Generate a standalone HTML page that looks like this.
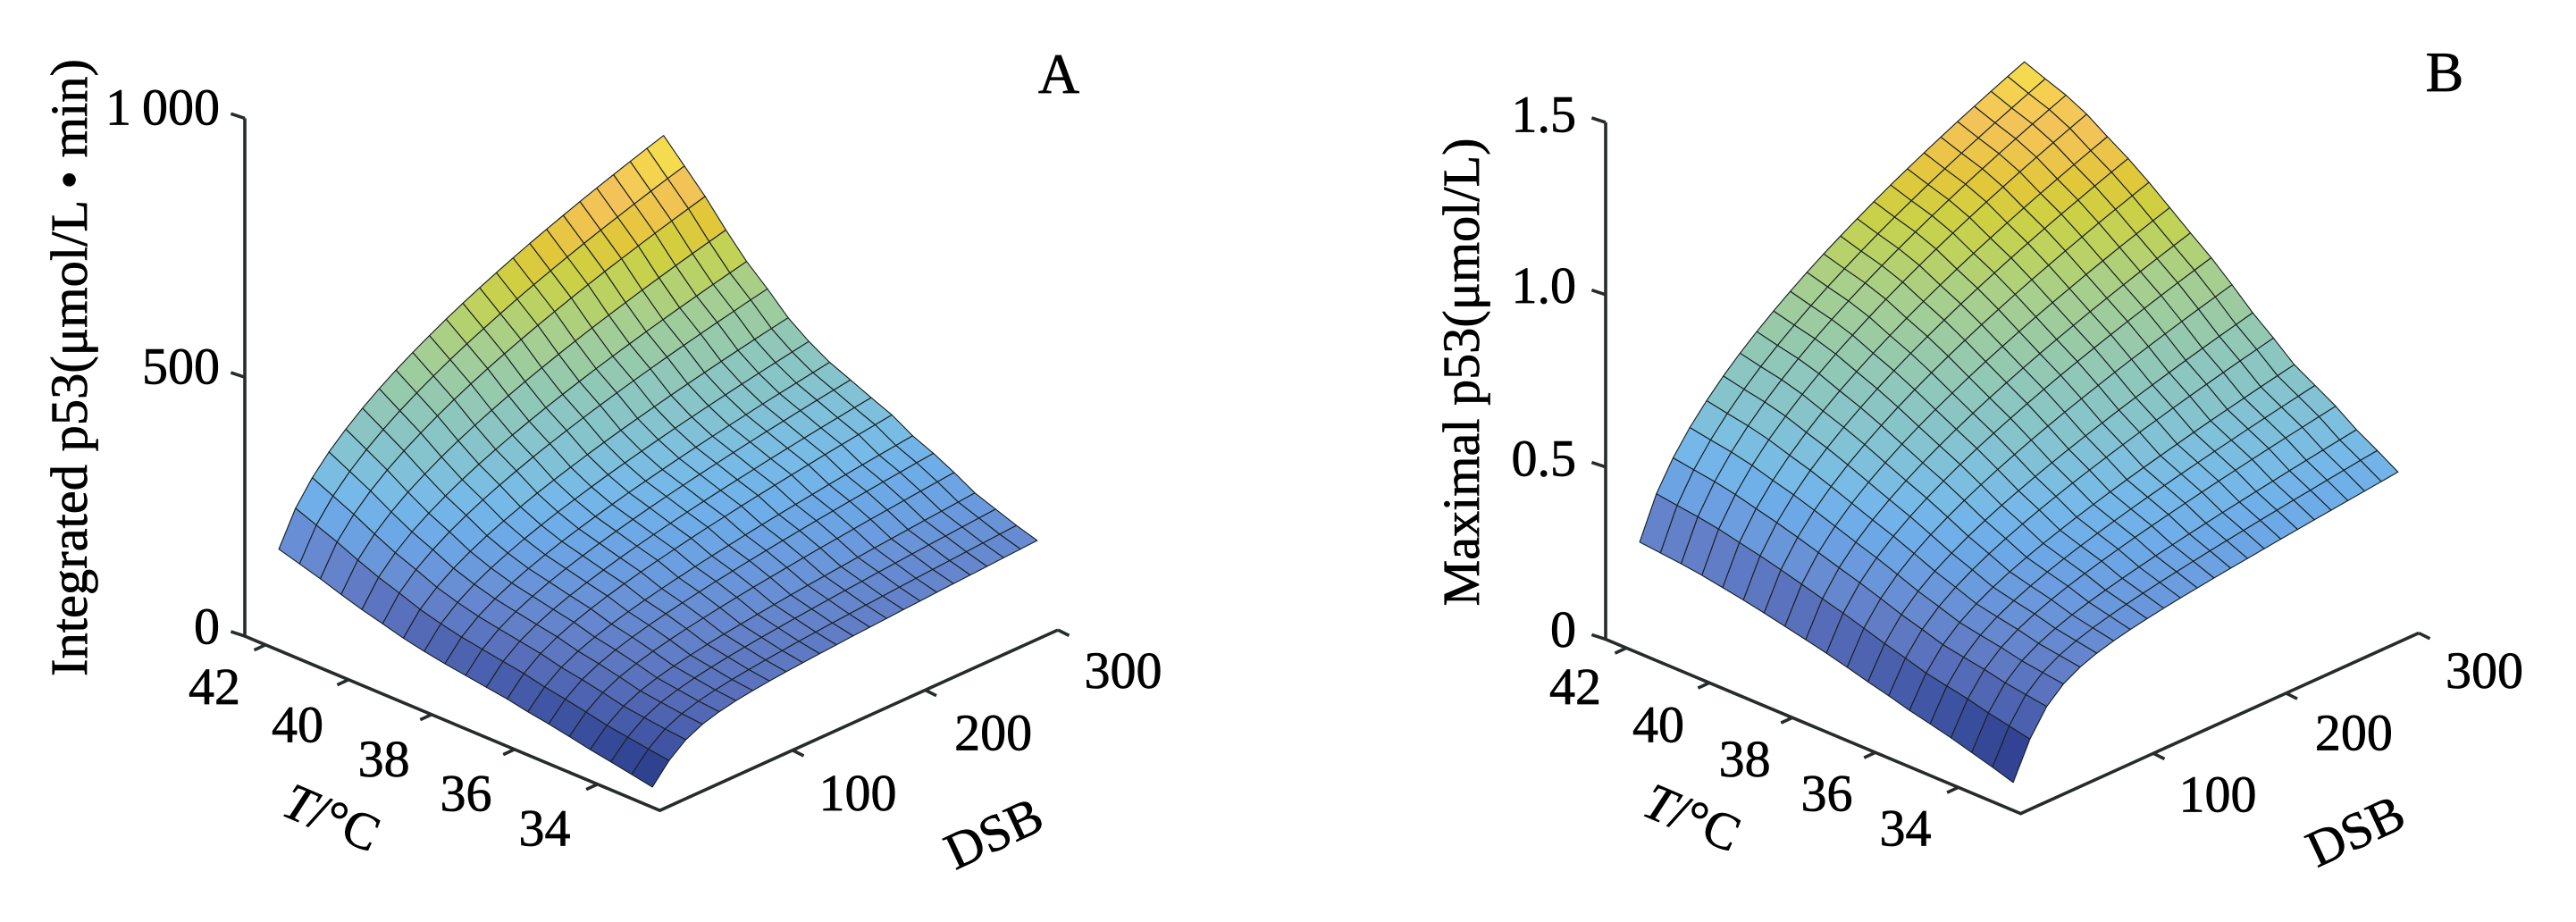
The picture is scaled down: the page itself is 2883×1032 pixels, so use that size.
<!DOCTYPE html>
<html><head><meta charset="utf-8">
<style>
html,body{margin:0;padding:0;background:#fff;}
svg{display:block;}
text{font-family:"Liberation Serif","Times New Roman",serif;fill:#000;stroke:#000;stroke-width:0.7;}
</style></head>
<body>
<svg id="s" xmlns="http://www.w3.org/2000/svg" width="2883" height="1032" viewBox="0 0 2883 1032">
<rect width="2883" height="1032" fill="#fff"/>

<!-- Panel A axes -->
<g stroke="#262b2b" stroke-width="3.6" fill="none">
  <polyline points="274,132.4 274,712 738.5,907.1 1184,705.1"/>
  <line x1="274" y1="712" x2="258.4" y2="706.9"/>
  <line x1="274" y1="422.2" x2="258.4" y2="417.1"/>
  <line x1="274" y1="132.4" x2="258.4" y2="127.3"/>
  <line x1="297.2" y1="721.8" x2="284.5" y2="727.6"/>
  <line x1="390.1" y1="760.8" x2="377.4" y2="766.6"/>
  <line x1="483.0" y1="799.8" x2="470.3" y2="805.6"/>
  <line x1="575.9" y1="838.8" x2="563.2" y2="844.6"/>
  <line x1="668.8" y1="877.8" x2="656.1" y2="883.6"/>
  <line x1="887" y1="839.75" x2="899.5" y2="846"/>
  <line x1="1035.5" y1="772.4" x2="1048" y2="778.7"/>
  <line x1="1184" y1="705.1" x2="1196.5" y2="711.4"/>
</g>
<g id="surfA" stroke="#1a2222" stroke-width="1.15" stroke-linejoin="round"></g>

<!-- Panel B axes -->
<g stroke="#262b2b" stroke-width="3.6" fill="none">
  <polyline points="1797,137 1797,715.5 2261.5,910.6 2707,708.55"/>
  <line x1="1797" y1="715.5" x2="1781.4" y2="710.4"/>
  <line x1="1797" y1="522.65" x2="1781.4" y2="517.55"/>
  <line x1="1797" y1="329.8" x2="1781.4" y2="324.7"/>
  <line x1="1797" y1="137" x2="1781.4" y2="131.9"/>
  <line x1="1820.2" y1="725.3" x2="1807.5" y2="731.1"/>
  <line x1="1913.1" y1="764.3" x2="1900.4" y2="770.1"/>
  <line x1="2006" y1="803.3" x2="1993.3" y2="809.1"/>
  <line x1="2098.9" y1="842.3" x2="2086.2" y2="848.1"/>
  <line x1="2191.8" y1="881.3" x2="2179.1" y2="887.1"/>
  <line x1="2410" y1="843.25" x2="2422.5" y2="849.5"/>
  <line x1="2558.5" y1="775.9" x2="2571" y2="782.2"/>
  <line x1="2707" y1="708.55" x2="2719.5" y2="714.8"/>
</g>
<g id="surfB" stroke="#1a2222" stroke-width="1.15" stroke-linejoin="round"></g>

<!-- Panel A text -->
<text transform="translate(97,411.5) rotate(-90)" text-anchor="middle" font-size="58" textLength="691" lengthAdjust="spacingAndGlyphs">Integrated p53(μmol/L • min)</text>
<text x="1185" y="104" text-anchor="middle" font-size="64">A</text>
<text x="147" y="139.4" text-anchor="end" font-size="58">1</text>
<text x="246" y="139.4" text-anchor="end" font-size="58">000</text>
<text x="246" y="429.6" text-anchor="end" font-size="58">500</text>
<text x="246" y="720.6" text-anchor="end" font-size="58">0</text>
<g font-size="58" text-anchor="middle">
  <text x="240" y="788">42</text>
  <text x="333" y="830.5">40</text>
  <text x="429.6" y="869">38</text>
  <text x="521.5" y="907.4">36</text>
  <text x="609.5" y="946.7">34</text>
  <text x="960" y="907.2">100</text>
  <text x="1111.6" y="839.3">200</text>
  <text x="1257" y="770">300</text>
</g>
<text transform="translate(1112,932.6) rotate(-25)" text-anchor="middle" font-size="58" y="19.5">DSB</text>
<text transform="translate(371.4,914.8) rotate(23)" text-anchor="middle" font-size="58" y="19.5"><tspan font-style="italic">T</tspan>/°C</text>

<!-- Panel B text -->
<text transform="translate(1655,416.5) rotate(-90)" text-anchor="middle" font-size="58" textLength="524" lengthAdjust="spacingAndGlyphs">Maximal p53(μmol/L)</text>
<text x="2736" y="102" text-anchor="middle" font-size="64">B</text>
<g font-size="58" text-anchor="end">
  <text x="1764" y="147.5">1.5</text>
  <text x="1764" y="339">1.0</text>
  <text x="1764" y="532.7">0.5</text>
  <text x="1764" y="724">0</text>
</g>
<g font-size="58" text-anchor="middle">
  <text x="1763" y="788">42</text>
  <text x="1856" y="830.5">40</text>
  <text x="1952.6" y="869">38</text>
  <text x="2044.5" y="907.4">36</text>
  <text x="2132.5" y="946.7">34</text>
  <text x="2482" y="908.5">100</text>
  <text x="2634.4" y="839.5">200</text>
  <text x="2780.5" y="770">300</text>
</g>
<text transform="translate(2636,930) rotate(-25)" text-anchor="middle" font-size="58" y="19.5">DSB</text>
<text transform="translate(1894,914.8) rotate(23)" text-anchor="middle" font-size="58" y="19.5"><tspan font-style="italic">T</tspan>/°C</text>
</svg>

<script>
(function(){
var NS="http://www.w3.org/2000/svg";
var CM=[[0,44,62,140],[0.05,58,78,158],[0.10,74,95,173],[0.15,88,110,186],[0.20,98,126,199],[0.25,104,142,212],[0.30,107,158,224],[0.35,110,172,232],[0.40,118,185,232],[0.45,126,192,220],[0.50,134,196,204],[0.55,140,198,192],[0.60,148,201,176],[0.65,158,204,158],[0.70,168,207,138],[0.75,186,210,100],[0.80,204,209,68],[0.85,226,199,58],[0.90,240,196,82],[0.93,243,195,90],[0.96,245,208,80],[1.00,245,226,76]];
function cmap(f){
  f=Math.max(0,Math.min(1,f));
  for(var k=1;k<CM.length;k++){
    if(f<=CM[k][0]){
      var a=CM[k-1],b=CM[k],t=(f-a[0])/(b[0]-a[0]);
      return "rgb("+Math.round(a[1]+(b[1]-a[1])*t)+","+Math.round(a[2]+(b[2]-a[2])*t)+","+Math.round(a[3]+(b[3]-a[3])*t)+")";
    }
  }
  return "rgb(245,226,76)";
}
function build(id,ox,oy,zs,p,z300){
  var g=document.getElementById(id);
  var NT=18,ND=23,Ts=[],Ds=[],Z=[],P=[],i,j;
  for(i=0;i<=NT;i++)Ts.push(33+0.5*i);
  for(j=0;j<=ND;j++)Ds.push(10+j*290/ND);
  var zmin=1e9,zmax=-1e9;
  for(i=0;i<=NT;i++){
    var T=Ts[i],zt=z300[NT-i],w=1-Math.exp(-(T-33)/2);
    Z[i]=[];P[i]=[];
    for(j=0;j<=ND;j++){
      var D=Ds[j];
      var sP=Math.pow(D/300,p);
      var sH=(110*D*D/(625+D*D)+0.153*D)/155.1;
      var z=zt*(w*sP+(1-w)*sH);
      Z[i][j]=z;
      if(z<zmin)zmin=z; if(z>zmax)zmax=z;
      P[i][j]=[ox+(42.5-T)*46.45+1.485*D, oy+(42.5-T)*19.51-0.6735*D-zs*z];
    }
  }
  var F=[];
  for(i=0;i<NT;i++)for(j=0;j<ND;j++){
    var Tc=Ts[i]+0.25,Dc=(Ds[j]+Ds[j+1])/2;
    F.push([(42.5-Tc)*19.51-0.6735*Dc,i,j]);
  }
  F.sort(function(a,b){return a[0]-b[0];});
  var frag=document.createDocumentFragment();
  F.forEach(function(f){
    var i=f[1],j=f[2];
    var pts=[P[i][j],P[i+1][j],P[i+1][j+1],P[i][j+1]].map(function(q){return q[0].toFixed(1)+","+q[1].toFixed(1);}).join(" ");
    var el=document.createElementNS(NS,"polygon");
    el.setAttribute("points",pts);
    el.setAttribute("fill",cmap((Z[i+1][j]-zmin)/(zmax-zmin)));
    frag.appendChild(el);
  });
  g.appendChild(frag);
}
build("surfA",274,712,0.5796,0.38,[635,593,551,503,459,423,384,355,331.6,314.5,297,280.5,257,240,219.7,197,182.6,168,155.8]);
build("surfB",1797,715.5,385.7,0.41,[1.177,1.153,1.131,1.101,1.061,1.023,0.979,0.931,0.883,0.836,0.783,0.727,0.679,0.627,0.592,0.557,0.514,0.479,0.442]);
})();
</script>
</body></html>
